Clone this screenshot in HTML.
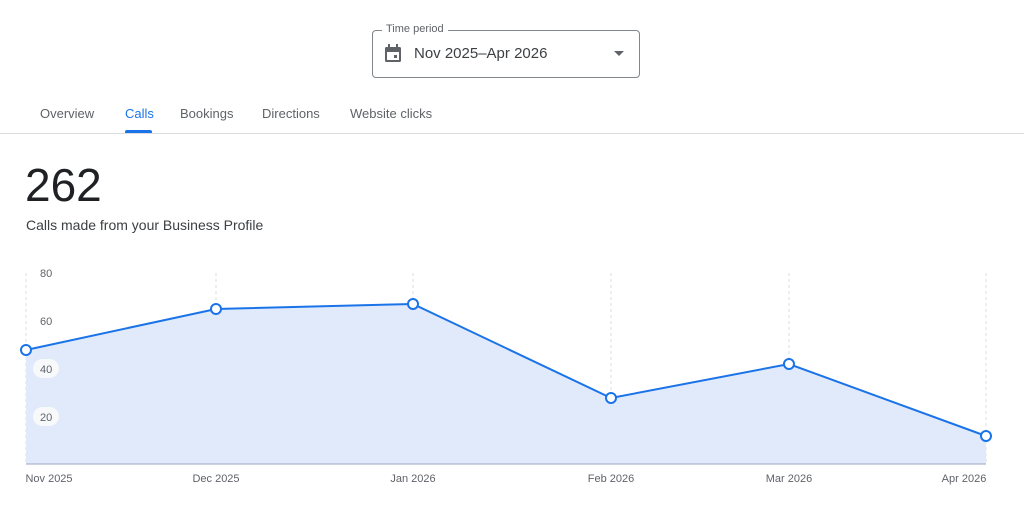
<!DOCTYPE html>
<html><head><style>
body{margin:0;width:1024px;height:517px;background:#fff;font-family:"Liberation Sans",Arial,sans-serif;overflow:hidden;position:relative}
.box{position:absolute;left:372px;top:30px;width:266px;height:46px;border:1px solid #80868b;border-radius:4px}
.lbl{position:absolute;left:382px;top:23px;background:#fff;padding:0 4px;font-size:11px;color:#5f6368}
.val{position:absolute;left:414px;top:45px;font-size:15px;color:#3c4043}
.tabs span{position:absolute;top:106px;font-size:13px;color:#5f6368}
</style></head><body>
<div class="box"></div><div class="lbl">Time period</div>
<svg style="position:absolute;left:384px;top:44px" width="18" height="20"><rect x="1" y="3" width="16" height="15" rx="1.5" fill="#5f6368"/><rect x="3" y="8" width="12" height="8" fill="#fff"/><rect x="4" y="0" width="2" height="4" fill="#5f6368"/><rect x="12" y="0" width="2" height="4" fill="#5f6368"/><rect x="10" y="11" width="3" height="3" fill="#5f6368"/></svg>
<div class="val">Nov 2025–Apr 2026</div>
<svg style="position:absolute;left:613px;top:50px" width="12" height="8"><path d="M1 1h10L6 6z" fill="#5f6368"/></svg>
<div class="tabs"><span style="left:40px">Overview</span><span style="left:125px;color:#1a73e8">Calls</span><span style="left:180px">Bookings</span><span style="left:262px">Directions</span><span style="left:350px">Website clicks</span></div>
<div style="position:absolute;left:125px;top:130px;width:27px;height:3px;background:#1a73e8;border-radius:2px 2px 0 0"></div>
<div style="position:absolute;left:0;top:133px;width:1024px;height:1px;background:#dadce0"></div>
<div style="position:absolute;left:25px;top:158px;font-size:46px;color:#202124">262</div>
<div style="position:absolute;left:26px;top:217px;font-size:14px;color:#3c4043">Calls made from your Business Profile</div>
<svg style="position:absolute;left:0;top:0" width="1024" height="517">
<g stroke="#dadce0" stroke-dasharray="3,3"><line x1="26" y1="273" x2="26" y2="464"/><line x1="216" y1="273" x2="216" y2="464"/><line x1="413" y1="273" x2="413" y2="464"/><line x1="611" y1="273" x2="611" y2="464"/><line x1="789" y1="273" x2="789" y2="464"/><line x1="986" y1="273" x2="986" y2="464"/></g>
<path d="M26 350L216 309L413 304L611 398L789 364L986 436L986 464L26 464Z" fill="#e1eafb"/>
<line x1="26" y1="464" x2="986" y2="464" stroke="#9aa6c0"/>
<path d="M26 350L216 309L413 304L611 398L789 364L986 436" fill="none" stroke="#1a73e8" stroke-width="2"/>
<g fill="#fff" stroke="#1a73e8" stroke-width="2"><circle cx="26" cy="350" r="5"/><circle cx="216" cy="309" r="5"/><circle cx="413" cy="304" r="5"/><circle cx="611" cy="398" r="5"/><circle cx="789" cy="364" r="5"/><circle cx="986" cy="436" r="5"/></g>
<rect x="33" y="359" width="26" height="19" rx="9.5" fill="#f8f9fb"/><rect x="33" y="407" width="26" height="19" rx="9.5" fill="#f8f9fb"/>
<g font-size="11" fill="#5f6368" font-family="Liberation Sans,Arial,sans-serif"><text x="40" y="277">80</text><text x="40" y="325">60</text><text x="40" y="373">40</text><text x="40" y="421">20</text></g>
<g font-size="11" fill="#5f6368" font-family="Liberation Sans,Arial,sans-serif" text-anchor="middle"><text x="49" y="482">Nov 2025</text><text x="216" y="482">Dec 2025</text><text x="413" y="482">Jan 2026</text><text x="611" y="482">Feb 2026</text><text x="789" y="482">Mar 2026</text><text x="964" y="482">Apr 2026</text></g>
</svg>
</body></html>
